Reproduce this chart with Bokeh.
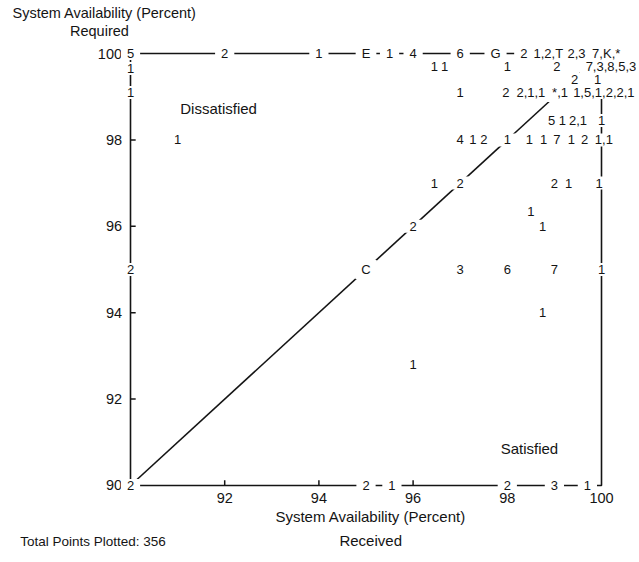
from bokeh.plotting import figure
from bokeh.models import Range1d
from bokeh.core.properties import value
from bokeh.embed import file_html
from bokeh.resources import INLINE

# ---- data -----------------------------------------------------------------
axis_lo, axis_hi = 90, 100
x_ticks = [92, 94, 96, 98, 100]
y_ticks = [90, 92, 94, 96, 98, 100]
inner_ticks = [92, 94, 96, 98]

# point counts (label text) at (received, required)
lab_x = [90, 92, 94, 95, 95.5, 96, 97, 97.75, 98.35, 98.87, 99.47, 100.1,
         90, 96.45, 96.67, 98, 99.05, 100.2,
         99.43, 99.92,
         90, 97, 97.97, 98.5, 99.12, 100.05,
         98.94, 99.17, 99.5, 100,
         91, 97, 97.27, 97.5, 98, 98.47, 98.77, 99.05, 99.36, 99.64, 100.05,
         96.45, 97, 99, 99.3, 99.95,
         98.5, 96, 98.75,
         90, 95, 97, 98, 99, 100,
         98.75, 96,
         90, 95, 95.55, 98, 99, 99.7]
lab_y = [100, 100, 100, 100, 100, 100, 100, 100, 100, 100, 100, 100,
         99.65, 99.7, 99.7, 99.7, 99.7, 99.7,
         99.4, 99.4,
         99.1, 99.1, 99.1, 99.1, 99.1, 99.1,
         98.45, 98.45, 98.45, 98.45,
         98, 98, 98, 98, 98, 98, 98, 98, 98, 98, 98,
         97, 97, 97, 97, 97,
         96.35, 96, 96,
         95, 95, 95, 95, 95, 95,
         94, 92.8,
         90, 90, 90, 90, 90, 90]
lab_text = ["5", "2", "1", "E", "1", "4", "6", "G", "2", "1,2,T", "2,3", "7,K,*",
            "1", "1", "1", "1", "2", "7,3,8,5,3",
            "2", "1",
            "1", "1", "2", "2,1,1", "*,1", "1,5,1,2,2,1",
            "5", "1", "2,1", "1",
            "1", "4", "1", "2", "1", "1", "1", "7", "1", "2", "1,1",
            "1", "2", "2", "1", "1",
            "1", "2", "1",
            "2", "C", "3", "6", "7", "1",
            "1", "1",
            "2", "2", "1", "2", "3", "1"]

region_names = ["Dissatisfied", "Satisfied"]
region_x = [91.87, 98.47]
region_y = [98.73, 90.86]

y_title = ["System Availability (Percent)", "Required"]
x_title = ["System Availability (Percent)", "Received"]
note = "Total Points Plotted: 356"

FONT = "Liberation Sans"
INK = "#141414"

# ---- figure: the frame covers the whole canvas ----------------------------
p = figure(width=636, height=558, output_backend="svg", toolbar_location=None,
           x_range=Range1d(87.240, 100.743), y_range=Range1d(88.310, 101.227),
           x_axis_location=None, y_axis_location=None, min_border=0)
p.outline_line_color = None
p.grid.visible = False
p.background_fill_color = "white"

def txt(x, y, t, size, align="center"):
    p.text(x=x, y=y, text=t, text_font=value(FONT), text_font_size=size,
           text_align=align, text_baseline="middle", text_color=INK)

# frame lines (the 90/100 borders) and diagonal
p.line([axis_lo, axis_hi, axis_hi, axis_lo, axis_lo],
       [axis_lo, axis_lo, axis_hi, axis_hi, axis_lo],
       line_color=INK, line_width=1.6)
p.line([axis_lo, axis_hi], [axis_lo, axis_hi], line_color=INK, line_width=1.6)

# inward tick marks
p.segment(x0=[axis_lo] * len(inner_ticks), y0=inner_ticks,
          x1=[axis_lo + 0.11] * len(inner_ticks), y1=inner_ticks,
          line_color=INK, line_width=1.5)
p.segment(x0=inner_ticks, y0=[axis_lo] * len(inner_ticks),
          x1=inner_ticks, y1=[axis_lo + 0.12] * len(inner_ticks),
          line_color=INK, line_width=1.5)

# tick labels
txt([axis_lo - 0.18] * len(y_ticks), y_ticks, [str(t) for t in y_ticks], "14.5px", "right")
txt(x_ticks, [axis_lo - 0.30] * len(x_ticks), [str(t) for t in x_ticks], "14.5px")

# count labels: white boxes first (they break the lines), then the texts
p.text(x=lab_x, y=lab_y, text=lab_text, text_font=value(FONT),
       text_font_size="13px", text_align="center", text_baseline="middle",
       text_alpha=0, background_fill_color="white", padding=(6, 2))
p.text(x=lab_x, y=lab_y, text=lab_text, text_font=value(FONT),
       text_font_size="13px", text_align="center", text_baseline="middle",
       text_color=INK)

# region names
txt(region_x, region_y, region_names, "15px")

# axis titles and note
txt([89.45, 89.34], [100.949, 100.532], y_title, "14.5px")
txt([95.10, 95.10], [89.282, 88.727], x_title, "15px")
txt([87.66], [88.70], [note], "13.5px", "left")

open("out.html", "w").write(file_html(p, INLINE))
